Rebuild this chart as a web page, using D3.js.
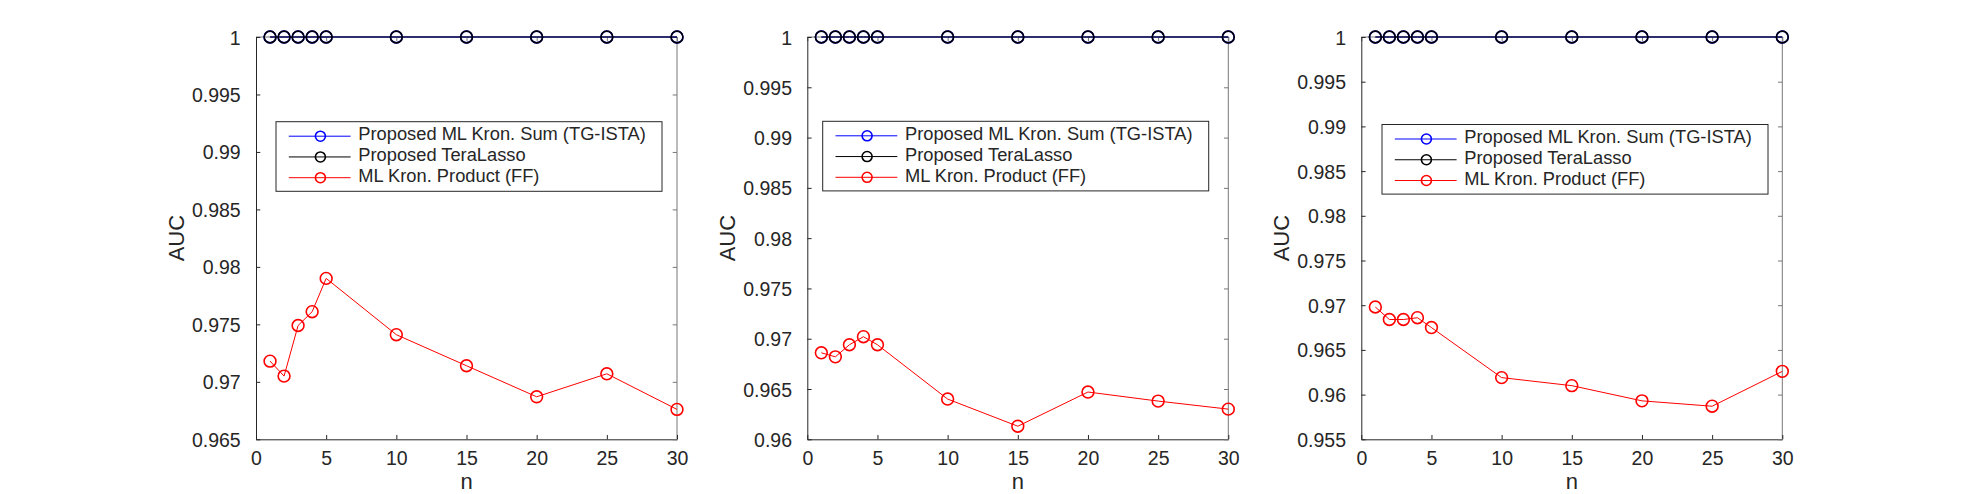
<!DOCTYPE html>
<html>
<head>
<meta charset="utf-8">
<script src="https://cdn.jsdelivr.net/npm/d3@7"></script>
<style>
  html, body { margin: 0; padding: 0; background: #fff; }
  svg { display: block; }
  text { font-family: "Liberation Sans", Arial, Helvetica, sans-serif; fill: #262626; }
</style>
</head>
<body>
<svg id="chart" width="1969" height="494"></svg>
<script>
// ---------------- DATA ----------------
const nValues = [1, 2, 3, 4, 5, 10, 15, 20, 25, 30];
const seriesNames = ["Proposed ML Kron. Sum (TG-ISTA)", "Proposed TeraLasso", "ML Kron. Product (FF)"];

// panel 1
const p1TGISTA = [1, 1, 1, 1, 1, 1, 1, 1, 1, 1];
const p1TeraLasso = [1, 1, 1, 1, 1, 1, 1, 1, 1, 1];
const p1KronProduct = [0.9718, 0.9705, 0.9749, 0.9761, 0.9790, 0.9741, 0.9714, 0.9687, 0.9707, 0.9676];
// panel 2
const p2TGISTA = [1, 1, 1, 1, 1, 1, 1, 1, 1, 1];
const p2TeraLasso = [1, 1, 1, 1, 1, 1, 1, 1, 1, 1];
const p2KronProduct = [0.9686, 0.9682, 0.9694, 0.9702, 0.9694, 0.9640, 0.9613, 0.9647, 0.9638, 0.9630];
// panel 3
const p3TGISTA = [1, 1, 1, 1, 1, 1, 1, 1, 1, 1];
const p3TeraLasso = [1, 1, 1, 1, 1, 1, 1, 1, 1, 1];
const p3KronProduct = [0.9698, 0.9684, 0.9684, 0.9686, 0.9675, 0.9619, 0.9610, 0.9593, 0.9587, 0.9626];

const xTicks = [0, 5, 10, 15, 20, 25, 30];
const p1YTicks = [0.965, 0.97, 0.975, 0.98, 0.985, 0.99, 0.995, 1];
const p2YTicks = [0.96, 0.965, 0.97, 0.975, 0.98, 0.985, 0.99, 0.995, 1];
const p3YTicks = [0.955, 0.96, 0.965, 0.97, 0.975, 0.98, 0.985, 0.99, 0.995, 1];

const xLabel = "n";
const yLabel = "AUC";

// ---------------- LAYOUT / STYLE ----------------
const seriesColors = ["#0000ff", "#000000", "#ff0000"];
const panels = [
  { x0: 256,    yTicks: p1YTicks, series: [p1TGISTA, p1TeraLasso, p1KronProduct], legend: { x: 20,   y: 121.7 } },
  { x0: 807.3,  yTicks: p2YTicks, series: [p2TGISTA, p2TeraLasso, p2KronProduct], legend: { x: 15.4, y: 121.3 } },
  { x0: 1361.3, yTicks: p3YTicks, series: [p3TGISTA, p3TeraLasso, p3KronProduct], legend: { x: 20.7, y: 124.5 } }
];
const plotW = 421, plotTop = 37, plotBottom = 439.3;
const legendW = 386, legendH = 69.6;
const tickFont = 19.5, legendFont = 18.3, labelFont = 22;
const axisColor = "#262626";
const markerR = 5.9, legendMarkerR = 5;
const tickLen = 4.3;

const svg = d3.select("#chart");

panels.forEach(p => {
  const g = svg.append("g").attr("transform", `translate(${p.x0},0)`);
  const yMin = d3.min(p.yTicks), yMax = d3.max(p.yTicks);
  const x = d3.scaleLinear().domain([0, 30]).range([0, plotW]);
  const y = d3.scaleLinear().domain([yMin, yMax]).range([plotBottom, plotTop]);

  // box: top/right lines
  g.append("line").attr("x1", 0).attr("x2", plotW).attr("y1", plotTop).attr("y2", plotTop)
    .attr("stroke", "#777").attr("stroke-width", 1);
  g.append("line").attr("x1", plotW).attr("x2", plotW).attr("y1", plotTop).attr("y2", plotBottom)
    .attr("stroke", "#777").attr("stroke-width", 1);

  // bottom axis
  const xAxis = d3.axisBottom(x).tickValues(xTicks).tickSize(-tickLen).tickSizeOuter(0)
    .tickFormat(d3.format("d"));
  const gx = g.append("g").attr("transform", `translate(0,${plotBottom})`).call(xAxis);
  gx.select(".domain").attr("stroke", axisColor);
  gx.selectAll(".tick line").attr("stroke", axisColor);
  gx.selectAll(".tick text").attr("font-size", tickFont).attr("fill", axisColor)
    .attr("font-family", "Liberation Sans, Arial, sans-serif").attr("dy", "0").attr("y", 25.7);

  // top ticks
  const xAxisTop = d3.axisTop(x).tickValues(xTicks).tickSize(-tickLen).tickSizeOuter(0).tickFormat("");
  const gxt = g.append("g").attr("transform", `translate(0,${plotTop})`).call(xAxisTop);
  gxt.select(".domain").remove();
  gxt.selectAll(".tick line").attr("stroke", "#777");

  // left axis
  const yAxis = d3.axisLeft(y).tickValues(p.yTicks).tickSize(-tickLen).tickSizeOuter(0).tickPadding(11 + tickLen)
    .tickFormat(d3.format("~g"));
  const gy = g.append("g").call(yAxis);
  gy.select(".domain").attr("stroke", axisColor);
  gy.selectAll(".tick line").attr("stroke", axisColor);
  gy.selectAll(".tick text").attr("font-size", tickFont).attr("fill", axisColor)
    .attr("font-family", "Liberation Sans, Arial, sans-serif").attr("dy", "0.36em");

  // right ticks
  const yAxisR = d3.axisRight(y).tickValues(p.yTicks).tickSize(-tickLen).tickSizeOuter(0).tickFormat("");
  const gyr = g.append("g").attr("transform", `translate(${plotW},0)`).call(yAxisR);
  gyr.select(".domain").remove();
  gyr.selectAll(".tick line").attr("stroke", "#777");

  // labels
  g.append("text").attr("x", plotW / 2).attr("y", 489).attr("text-anchor", "middle")
    .attr("font-size", labelFont).text(xLabel);
  g.append("text").attr("transform", `translate(-72,${(plotTop + plotBottom) / 2}) rotate(-90)`)
    .attr("text-anchor", "middle").attr("font-size", labelFont).text(yLabel);

  // series
  const line = d3.line().x((d, i) => x(nValues[i])).y(d => y(d));
  p.series.forEach((vals, si) => {
    g.append("path").datum(vals).attr("d", line).attr("fill", "none")
      .attr("stroke", seriesColors[si]).attr("stroke-width", 1);
    g.append("g").selectAll("circle").data(vals).join("circle")
      .attr("cx", (d, i) => x(nValues[i])).attr("cy", d => y(d)).attr("r", markerR)
      .attr("fill", "none").attr("stroke", seriesColors[si]).attr("stroke-width", 1.6);
  });

  // legend
  const L = p.legend;
  const lg = g.append("g").attr("transform", `translate(${L.x},${L.y})`);
  lg.append("rect").attr("x", 0).attr("y", 0).attr("width", legendW).attr("height", legendH)
    .attr("fill", "#fff").attr("stroke", axisColor).attr("stroke-width", 1);
  const rowH = 20.75;
  seriesNames.forEach((name, si) => {
    const cy = 14.5 + si * rowH;
    lg.append("line").attr("x1", 12.8).attr("x2", 74.6).attr("y1", cy).attr("y2", cy)
      .attr("stroke", seriesColors[si]).attr("stroke-width", 1);
    lg.append("circle").attr("cx", 44.4).attr("cy", cy).attr("r", legendMarkerR)
      .attr("fill", "none").attr("stroke", seriesColors[si]).attr("stroke-width", 1.6);
    lg.append("text").attr("x", 82.3).attr("y", cy + 4.3)
      .attr("font-size", legendFont).text(name);
  });
});
</script>
</body>
</html>
